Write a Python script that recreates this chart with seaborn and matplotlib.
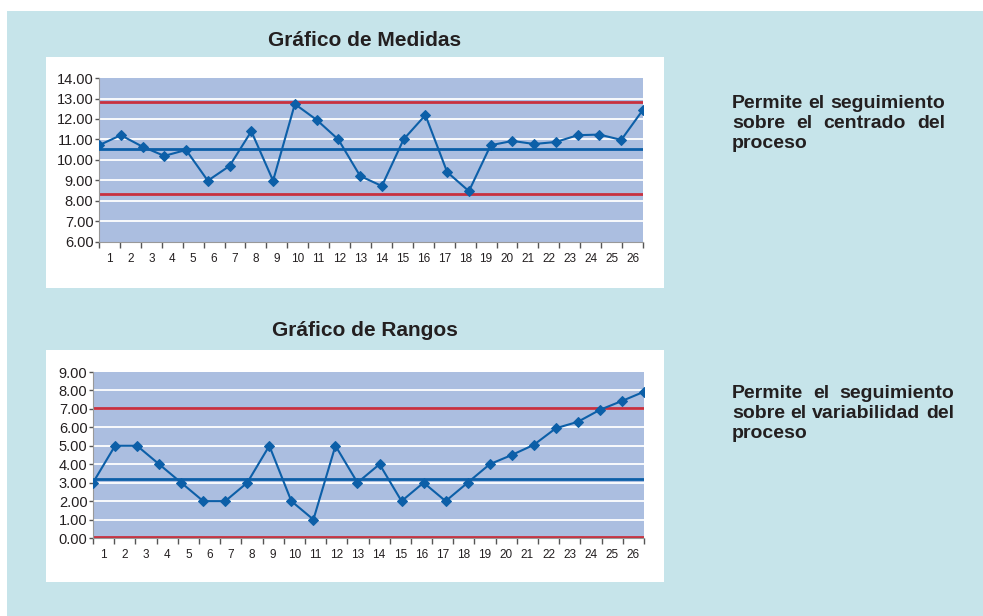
import numpy as np
import pandas as pd
import matplotlib
matplotlib.use("Agg")
import matplotlib.pyplot as plt
from matplotlib.patches import Rectangle
import seaborn as sns

# data
muestras = list(range(1, 27))
medidas = [10.72, 11.21, 10.65, 10.20, 10.49, 8.99, 9.71, 11.40, 8.99, 12.73,
           11.96, 11.00, 9.22, 8.73, 11.01, 12.19, 9.41, 8.48, 10.72, 10.93,
           10.78, 10.88, 11.21, 11.24, 10.98, 12.45]
rangos = [3, 5, 5, 4, 3, 2, 2, 3, 5, 2, 1, 5, 3, 4, 2, 3, 2, 3, 4, 4.5,
          5.05, 5.95, 6.3, 6.95, 7.43, 7.93]
medidas_lim = {"media": 10.52, "lcs": 12.81, "lci": 8.32}
rangos_lim = {"media": 3.2, "lcs": 7.03, "lci": 0.04}

sns.set_theme(style="white")
plt.rcParams["font.family"] = ["Liberation Sans", "DejaVu Sans"]

fondo = "#c6e4ea"
area = "#abbee0"
azul = "#0c5fa8"
rojo = "#c8303f"
texto = "#231f20"

fig = plt.figure(figsize=(9.83, 6.16), dpi=100)
fig.patch.set_facecolor("white")
W, H = 983, 616
renderer = fig.canvas.get_renderer()


def rect(x0, y0, x1, y1, color):
    fig.patches.append(Rectangle((x0 / W, 1 - y1 / H), (x1 - x0) / W, (y1 - y0) / H,
                                 transform=fig.transFigure, facecolor=color,
                                 edgecolor="none", zorder=-10))


rect(7, 11, 983, 616, fondo)
rect(46, 57, 664, 288, "white")
rect(46, 350, 664, 582, "white")


def justificado(lineas, x0, x1, y0, paso, size=14):
    # justified block of text, last line left aligned
    for i, linea in enumerate(lineas):
        y = 1 - (y0 + i * paso) / H
        palabras = linea.split()
        if i == len(lineas) - 1 or len(palabras) == 1:
            fig.text(x0 / W, y, linea, ha="left", va="baseline", fontsize=size,
                     fontweight="bold", color=texto)
            continue
        objs = [fig.text(0, y, p, ha="left", va="baseline", fontsize=size,
                         fontweight="bold", color=texto) for p in palabras]
        anchos = [o.get_window_extent(renderer).width for o in objs]
        hueco = (x1 - x0 - sum(anchos)) / (len(palabras) - 1)
        x = x0
        for o, a in zip(objs, anchos):
            o.set_x(x / W)
            x += a + hueco


def grafico(pos, valores, lim, ymin, ymax, titulo, title_y):
    ax = fig.add_axes(pos)
    ax.set_facecolor(area)
    df = pd.DataFrame({"x": np.arange(len(valores)), "y": valores})
    for v in range(ymin + 1, ymax):
        ax.axhline(v, color="white", lw=1.3, zorder=1)
    ax.axhline(lim["lcs"], color=rojo, lw=2, zorder=2)
    ax.axhline(lim["lci"], color=rojo, lw=2, zorder=2)
    ax.axhline(lim["media"], color=azul, lw=2, zorder=2)
    sns.lineplot(data=df, x="x", y="y", ax=ax, color=azul, lw=1.5,
                 marker="D", markersize=5, markeredgecolor=azul, zorder=3)
    n = len(valores)
    ax.set_xlim(0, n - 1)
    ax.set_ylim(ymin, ymax)
    paso = (n - 1) / n
    ax.set_xticks([k * paso for k in range(n + 1)])
    ax.set_xticklabels([])
    ax.set_xticks([(k + 0.5) * paso for k in range(n)], minor=True)
    ax.set_xticklabels([str(m) for m in muestras], minor=True, fontsize=8.5, color=texto)
    ax.tick_params(axis="x", which="major", direction="out", length=4, width=1,
                   color="#555555", bottom=True)
    ax.tick_params(axis="x", which="minor", length=0, pad=8)
    ax.set_yticks(range(ymin, ymax + 1))
    ax.set_yticklabels([f"{v:.2f}" for v in range(ymin, ymax + 1)], fontsize=10.5, color=texto)
    ax.tick_params(axis="y", direction="out", length=3, width=1, color="#555555",
                   left=True, pad=1)
    ax.set_xlabel("")
    ax.set_ylabel("")
    for s in ["top", "right"]:
        ax.spines[s].set_visible(False)
    for s in ["left", "bottom"]:
        ax.spines[s].set_color("#999999")
        ax.spines[s].set_linewidth(0.8)
    fig.text(365 / W, 1 - title_y / H, titulo, ha="center", va="center",
             fontsize=15, fontweight="bold", color=texto)
    return ax


grafico([99 / W, 1 - 242 / H, 544 / W, 164 / H], medidas, medidas_lim, 6, 14,
        "Gráfico de Medidas", 41)
grafico([93 / W, 1 - 538 / H, 551 / W, 166 / H], rangos, rangos_lim, 0, 9,
        "Gráfico de Rangos", 331)

justificado(["Permite el seguimiento", "sobre el centrado del", "proceso"],
            732, 945, 108, 20)
justificado(["Permite el seguimiento", "sobre el variabilidad del", "proceso"],
            732, 954, 398, 20)

fig.savefig("out.png", dpi=100, facecolor=fig.get_facecolor())
